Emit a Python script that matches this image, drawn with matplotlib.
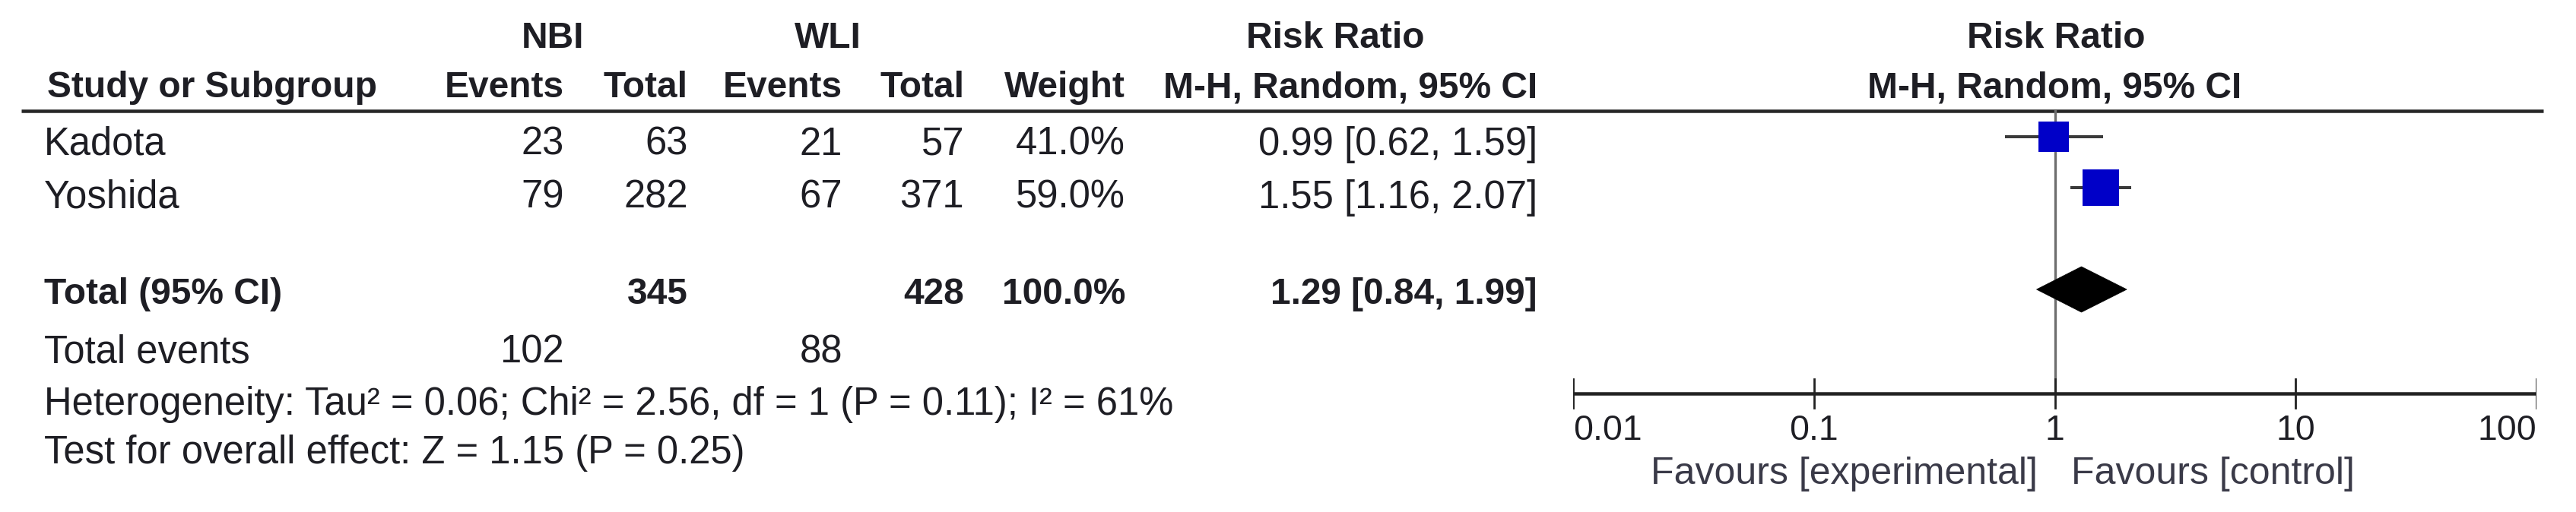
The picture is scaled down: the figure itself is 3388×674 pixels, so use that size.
import numpy as np
import matplotlib
matplotlib.use("Agg")
import matplotlib.pyplot as plt
from matplotlib.patches import Polygon

plt.rcParams['font.family'] = ['Liberation Sans', 'DejaVu Sans']

# ---------------- data ----------------
studies = ['Kadota', 'Yoshida']
nbi_events = [23, 79]
nbi_total = [63, 282]
wli_events = [21, 67]
wli_total = [57, 371]
weights = [41.0, 59.0]
rr = [0.99, 1.55]
ci_low = [0.62, 1.16]
ci_high = [1.59, 2.07]

total_label = 'Total (95% CI)'
total_nbi = 345
total_wli = 428
total_weight = 100.0
total_rr = 1.29
total_low = 0.84
total_high = 1.99
total_events_nbi = 102
total_events_wli = 88

heterogeneity = 'Heterogeneity: Tau\u00b2 = 0.06; Chi\u00b2 = 2.56, df = 1 (P = 0.11); I\u00b2 = 61%'
overall = 'Test for overall effect: Z = 1.15 (P = 0.25)'

group1 = 'NBI'
group2 = 'WLI'
col_headers = ['Events', 'Total', 'Events', 'Total', 'Weight']
effect_title = 'Risk Ratio'
effect_method = 'M-H, Random, 95% CI'
tick_values = [0.01, 0.1, 1, 10, 100]
tick_labels = ['0.01', '0.1', '1', '10', '100']
favours_left = 'Favours [experimental]'
favours_right = 'Favours [control]'

# ---------------- layout (pixels) ----------------
W, H = 3388, 674
DPI = 100
fig = plt.figure(figsize=(W / DPI, H / DPI), dpi=DPI)
fig.patch.set_facecolor('white')

ax = fig.add_axes([0, 0, 1, 1])
ax.set_xlim(0, W)
ax.set_ylim(H, 0)
ax.axis('off')

PX = 72.0 / DPI  # points per pixel
FS = 36.5
FSB = 34.5
FST = 33.5
TXT = '#1e1e24'

x_name = 58
x_cols = [742, 905, 1108, 1268, 1480]
x_rr = 2022
y_h1, y_h2 = 63, 128
y_rows = [204, 274]
y_total = 400
y_tev = 478
y_het = 546
y_ovr = 610

def t(x, y, s, ha='left', bold=False, color=TXT, a=ax, size=None):
    a.text(x, y, s, ha=ha, va='baseline', fontsize=size or (FSB if bold else FS),
           fontweight='bold' if bold else 'normal', color=color)

# headers
t(727, y_h1, group1, ha='center', bold=True)
t(1089, y_h1, group2, ha='center', bold=True)
t(1756, y_h1, effect_title, ha='center', bold=True)
t(2704, y_h1, effect_title, ha='center', bold=True)
t(x_name + 4, y_h2, 'Study or Subgroup', bold=True)
for xc, h in zip(x_cols, col_headers):
    t(xc, y_h2, h, ha='right', bold=True)
t(x_rr, y_h2, effect_method, ha='right', bold=True)
t(2702, y_h2, effect_method, ha='center', bold=True)

# header rule
ax.plot([28, 3345], [145.5, 145.5], color='#262626', lw=4.5 * PX, solid_capstyle='butt')

# study rows
for i, name in enumerate(studies):
    y = y_rows[i]
    t(x_name, y, name)
    vals = [str(nbi_events[i]), str(nbi_total[i]), str(wli_events[i]),
            str(wli_total[i]), f'{weights[i]:.1f}%']
    for xc, v in zip(x_cols, vals):
        t(xc, y, v, ha='right')
    t(x_rr, y, f'{rr[i]:.2f} [{ci_low[i]:.2f}, {ci_high[i]:.2f}]', ha='right')

# total row
t(x_name, y_total, total_label, bold=True)
t(x_cols[1], y_total, str(total_nbi), ha='right', bold=True)
t(x_cols[3], y_total, str(total_wli), ha='right', bold=True)
t(x_cols[4], y_total, f'{total_weight:.1f}%', ha='right', bold=True)
t(x_rr, y_total, f'{total_rr:.2f} [{total_low:.2f}, {total_high:.2f}]', ha='right', bold=True)

t(x_name, y_tev, 'Total events')
t(x_cols[0], y_tev, str(total_events_nbi), ha='right')
t(x_cols[2], y_tev, str(total_events_wli), ha='right')
t(x_name, y_het, heterogeneity)
t(x_name, y_ovr, overall)

# ---------------- forest plot ----------------
x0, x1 = 2069, 3336
fa = fig.add_axes([x0 / W, 0, (x1 - x0) / W, 1])
fa.set_xscale('log')
fa.set_xlim(tick_values[0], tick_values[-1])
fa.set_ylim(H, 0)
fa.axis('off')
fa.patch.set_alpha(0)

y_axis = 518
row_marker_y = [180, 247]
y_diamond = 381

# line of no effect
fa.plot([1, 1], [146, y_axis], color='#6e6e6e', lw=3.3 * PX, zorder=1)

# study CIs and squares
for i in range(len(studies)):
    y = row_marker_y[i]
    fa.plot([ci_low[i], ci_high[i]], [y, y], color='#3a3a3a', lw=4.0 * PX, zorder=2,
            solid_capstyle='butt')
    side = 6.2 * np.sqrt(weights[i])
    fa.plot([rr[i]], [y], marker='s', markersize=side * PX, color='#0000c8',
            markeredgewidth=0, zorder=3)

# diamond
diamond = Polygon([[total_low, y_diamond], [total_rr, y_diamond - 30],
                   [total_high, y_diamond], [total_rr, y_diamond + 30]],
                  closed=True, facecolor='black', edgecolor='black', lw=0.5, zorder=3)
fa.add_patch(diamond)

# axis
fa.plot([tick_values[0], tick_values[-1]], [y_axis, y_axis], color='#222222',
        lw=4.5 * PX, solid_capstyle='butt', zorder=2)
for k, (tv, tl) in enumerate(zip(tick_values, tick_labels)):
    fa.plot([tv, tv], [y_axis - 19, y_axis + 19], color='#222222', lw=2.8 * PX, zorder=2)
    ha = 'left' if k == 0 else ('right' if k == len(tick_values) - 1 else 'center')
    t(tv, 579, tl, ha=ha, a=fa, size=FST)

# favours labels
t(2680, 637, favours_left, ha='right', color='#3a3a48', size=36)
t(2724, 637, favours_right, ha='left', color='#3a3a48', size=36)

fig.savefig('out.png', dpi=DPI, facecolor='white')
